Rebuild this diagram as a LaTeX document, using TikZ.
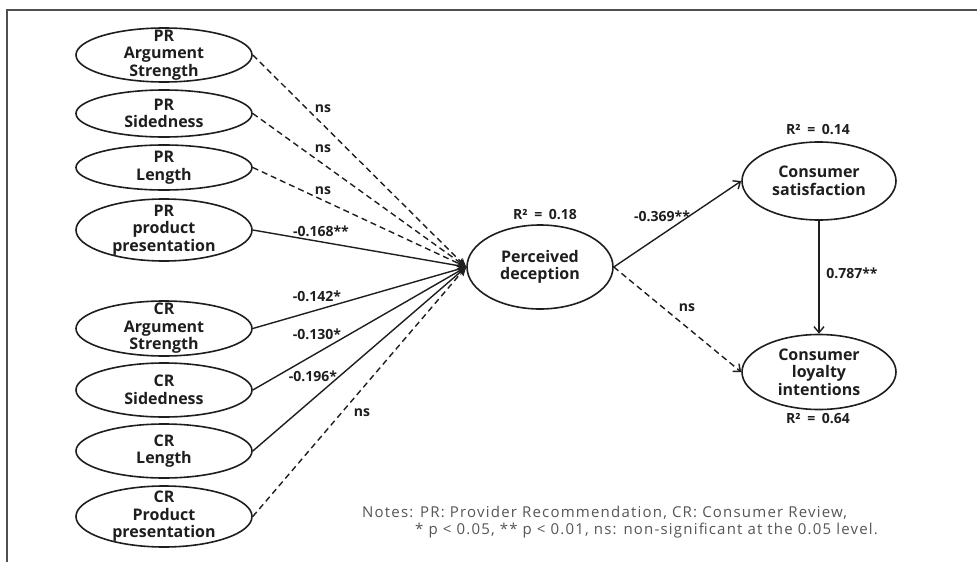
\documentclass[tikz,border=0pt]{standalone}
\usepackage{fontspec}
\setmainfont{Open Sans}
\newfontfamily\notefont{Open Sans}[LetterSpace=8]
\usetikzlibrary{shapes.geometric,arrows.meta}
\definecolor{ink}{HTML}{1E1E1E}
\definecolor{framecol}{HTML}{505050}
\definecolor{notegray}{HTML}{555555}
\begin{document}
\begin{tikzpicture}[x=1pt,y=-1pt,
  ell/.style={ellipse, draw=ink, line width=1.6pt, inner sep=0pt, minimum width=176pt},
  etext/.style={align=center, font=\fontsize{16}{17.5}\selectfont\bfseries, text=ink, inner sep=0pt},
  every label/.style={etext},
  lab/.style={font=\fontsize{14}{16}\selectfont\bfseries, text=ink, inner sep=0pt},
  notes/.style={font=\notefont\fontsize{15}{17}\selectfont, text=notegray, inner sep=0pt, anchor=west},
  conn/.style={draw=ink, line width=1.4pt},
  dsh/.style={conn, dash pattern=on 6pt off 4pt},
  intip/.style={-{Stealth[length=9pt,width=8pt]}},
  outtip/.style={-{Straight Barb[length=6pt,width=10pt]}}
]
\useasboundingbox (0,0) rectangle (977,562);
\draw[framecol, line width=1.5pt] (7,562) -- (7,10) -- (977,10);

% left constructs
\node[ell, minimum height=54pt, label=center:{PR\\Argument\\Strength}] (pas) at (164,55) {};
\node[ell, minimum height=47pt, label=center:{PR\\Sidedness}] (psd) at (164,113.5) {};
\node[ell, minimum height=45pt, label=center:{PR\\Length}] (pl) at (164,167.5) {};
\node[ell, minimum height=62pt, label=center:{PR\\product\\presentation}] (ppp) at (164,230) {};
\node[ell, minimum height=55pt, label=center:{CR\\Argument\\Strength}] (cas) at (164,328.5) {};
\node[ell, minimum height=54pt, label=center:{CR\\Sidedness}] (csd) at (164,390) {};
\node[ell, minimum height=54pt, label=center:{CR\\Length}] (cl) at (164,451) {};
\node[ell, minimum height=61pt, label=center:{CR\\Product\\presentation}] (cpp) at (164,516.5) {};

% right constructs
\node[ell, minimum width=146pt, minimum height=84pt, label=center:{Perceived\\deception}] (pd) at (540,267) {};
\node[ell, minimum width=154pt, minimum height=78pt, label=center:{Consumer\\satisfaction}] (cs) at (819,181) {};
\node[ell, minimum width=154pt, minimum height=75pt, label=center:{Consumer\\loyalty\\intentions}] (cli) at (819,372) {};

% R squared
\node[lab] (r18) at (545,215) {R²\hspace{3pt} = \hspace{3pt}0.18};
\node[lab] (r14) at (818,130) {R²\hspace{3pt} = \hspace{3pt}0.14};
\node[lab] (r64) at (818,419) {R²\hspace{3pt} = \hspace{3pt}0.64};

% connectors into perceived deception
\draw[dsh, intip] (pas.east) -- (pd.west);
\draw[dsh, intip] (psd.east) -- (pd.west);
\draw[dsh, intip] (pl.east) -- (pd.west);
\draw[conn, intip] (ppp.east) -- (pd.west);
\draw[conn, intip] (cas.east) -- (pd.west);
\draw[conn, intip] (csd.east) -- (pd.west);
\draw[conn, intip] (cl.east) -- (pd.west);
\draw[dsh, intip] (cpp.east) -- (pd.west);

% outgoing connectors
\draw[conn, outtip] (pd.east) -- (cs.west);
\draw[dsh, outtip] (pd.east) -- (cli.west);
\draw[conn, outtip] (cs.south) -- (cli.north);

% path labels
\node[lab] (l1) at (323,109) {ns};
\node[lab] (l2) at (323,149) {ns};
\node[lab] (l3) at (323,191) {ns};
\node[lab] (l4) at (321,231) {-0.168**};
\node[lab] (l5) at (317,296) {-0.142*};
\node[lab] (l6) at (317,334) {-0.130*};
\node[lab] (l7) at (313,376) {-0.196*};
\node[lab] (l8) at (362,413) {ns};
\node[lab] (l9) at (662,216) {-0.369**};
\node[lab] (l10) at (687,308) {ns};
\node[lab] (l11) at (852,273) {0.787**};

% notes
\node[notes] (n1) at (362,513) {Notes: PR: Provider Recommendation, CR: Consumer Review,};
\node[notes] (n2) at (415,531) {* p < 0.05, ** p < 0.01, ns: non-significant at the 0.05 level.};
\end{tikzpicture}
\end{document}
